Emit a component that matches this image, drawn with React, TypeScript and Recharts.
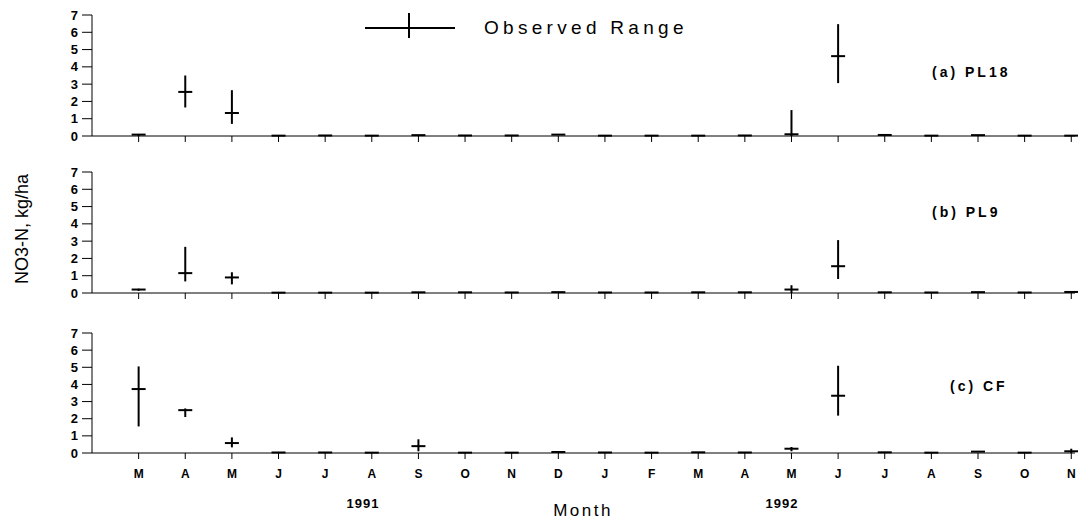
import React from 'react';
import { ComposedChart, Scatter, ErrorBar, XAxis, YAxis } from 'recharts';

const months = ['M', 'A', 'M', 'J', 'J', 'A', 'S', 'O', 'N', 'D', 'J', 'F', 'M', 'A', 'M', 'J', 'J', 'A', 'S', 'O', 'N'];
const yTicks = [0, 1, 2, 3, 4, 5, 6, 7];

// (a) PL18
const pl18Mean = [0.08, 2.55, 1.33, 0.02, 0.03, 0.02, 0.05, 0.03, 0.03, 0.08, 0.02, 0.02, 0.02, 0.03, 0.1, 4.62, 0.06, 0.02, 0.05, 0.02, 0.02];
const pl18Low = [0.0, 1.65, 0.7, 0.02, 0.03, 0.02, 0.05, 0.03, 0.03, 0.05, 0.02, 0.02, 0.02, 0.03, 0.0, 3.06, 0.06, 0.02, 0.05, 0.02, 0.02];
const pl18High = [0.12, 3.5, 2.65, 0.02, 0.03, 0.02, 0.05, 0.03, 0.03, 0.1, 0.02, 0.02, 0.02, 0.03, 1.5, 6.47, 0.06, 0.02, 0.05, 0.02, 0.02];

// (b) PL9
const pl9Mean = [0.2, 1.15, 0.9, 0.02, 0.02, 0.02, 0.04, 0.04, 0.03, 0.05, 0.03, 0.03, 0.04, 0.04, 0.2, 1.55, 0.04, 0.03, 0.05, 0.03, 0.06];
const pl9Low = [0.12, 0.67, 0.5, 0.02, 0.02, 0.02, 0.04, 0.04, 0.03, 0.05, 0.03, 0.03, 0.04, 0.04, 0.0, 0.81, 0.04, 0.03, 0.05, 0.03, 0.02];
const pl9High = [0.25, 2.67, 1.2, 0.02, 0.02, 0.02, 0.04, 0.04, 0.03, 0.05, 0.03, 0.03, 0.04, 0.04, 0.45, 3.06, 0.04, 0.03, 0.05, 0.03, 0.1];

// (c) CF
const cfMean = [3.73, 2.5, 0.58, 0.03, 0.03, 0.02, 0.4, 0.02, 0.02, 0.06, 0.03, 0.02, 0.04, 0.03, 0.25, 3.34, 0.04, 0.02, 0.08, 0.02, 0.1];
const cfLow = [1.55, 2.1, 0.33, 0.03, 0.03, 0.02, 0.1, 0.02, 0.02, 0.06, 0.03, 0.02, 0.04, 0.03, 0.1, 2.18, 0.04, 0.02, 0.08, 0.02, 0.0];
const cfHigh = [5.05, 2.6, 0.91, 0.03, 0.03, 0.02, 0.8, 0.02, 0.02, 0.06, 0.03, 0.02, 0.04, 0.03, 0.35, 5.09, 0.04, 0.02, 0.08, 0.02, 0.25];

const font = '"Liberation Sans", Arial, sans-serif';

const buildRows = (mean: number[], low: number[], high: number[]) =>
  mean.map((m, i) => ({ x: i + 1, mean: m, err: [m - low[i], high[i] - m] }));

const MeanTick = (props: any) => {
  const { cx, cy } = props;
  return <line x1={cx - 7} x2={cx + 7} y1={cy} y2={cy} stroke="#000" strokeWidth={2} />;
};

interface PanelProps {
  top: number;
  height: number;
  rows: { x: number; mean: number; err: number[] }[];
  showLabels?: boolean;
}

const Panel: React.FC<PanelProps> = ({ top, height, rows, showLabels }) => {
  const xh = showLabels ? 30 : 14;
  const bottom = showLabels ? 44 : 0;
  return (
    <div style={{ position: 'absolute', left: 0, top }}>
      <ComposedChart width={1078} height={height} data={rows} margin={{ top: 15, right: 3, bottom, left: 0 }}>
        <XAxis
          type="number"
          dataKey="x"
          domain={[0, 21.08]}
          ticks={months.map((_, i) => i + 1)}
          tickFormatter={(v) => (showLabels ? months[v - 1] : '')}
          interval={0}
          height={xh}
          tickSize={6}
          tickMargin={10}
          stroke="#000"
          tick={{ fill: '#000', fontSize: 12, fontWeight: 'bold', fontFamily: font }}
        />
        <YAxis
          type="number"
          domain={[0, 7]}
          ticks={yTicks}
          interval={0}
          width={92}
          tickSize={10}
          tickMargin={4}
          stroke="#000"
          tick={{ fill: '#000', fontSize: 13, fontWeight: 'bold', fontFamily: font }}
        />
        <Scatter dataKey="mean" shape={MeanTick} isAnimationActive={false}>
          <ErrorBar dataKey="err" direction="y" width={0} stroke="#000" strokeWidth={2} isAnimationActive={false} />
        </Scatter>
      </ComposedChart>
    </div>
  );
};

const panelLabel: React.CSSProperties = {
  position: 'absolute',
  fontFamily: font,
  fontWeight: 'bold',
  fontSize: 14,
  letterSpacing: 3,
  color: '#000',
  whiteSpace: 'nowrap',
  transform: 'translateY(-50%)',
};

const App: React.FC = () => {
  return (
    <div style={{ position: 'absolute', left: 0, top: 0, width: 1078, height: 527, background: '#fff', overflow: 'hidden' }}>
      <Panel top={0} height={150} rows={buildRows(pl18Mean, pl18Low, pl18High)} />
      <Panel top={157} height={150} rows={buildRows(pl9Mean, pl9Low, pl9High)} />
      <Panel top={318} height={209} rows={buildRows(cfMean, cfLow, cfHigh)} showLabels />

      {/* legend */}
      <svg style={{ position: 'absolute', left: 360, top: 8 }} width={100} height={36}>
        <line x1={5} x2={95} y1={20} y2={20} stroke="#000" strokeWidth={2} />
        <line x1={49} x2={49} y1={5} y2={30} stroke="#000" strokeWidth={2} />
      </svg>
      <div style={{ position: 'absolute', left: 484, top: 28, transform: 'translateY(-50%)', fontFamily: font, fontSize: 19, letterSpacing: 4.3, color: '#000', whiteSpace: 'nowrap' }}>
        Observed Range
      </div>

      <div style={{ ...panelLabel, left: 932, top: 72 }}>(a) PL18</div>
      <div style={{ ...panelLabel, left: 932, top: 212 }}>(b) PL9</div>
      <div style={{ ...panelLabel, left: 950, top: 386 }}>(c) CF</div>

      <div
        style={{
          position: 'absolute',
          left: 22,
          top: 229,
          transform: 'translate(-50%, -50%) rotate(-90deg)',
          fontFamily: font,
          fontSize: 18,
          color: '#000',
          whiteSpace: 'nowrap',
        }}
      >
        NO3-N, kg/ha
      </div>

      <div style={{ position: 'absolute', left: 363, top: 503, transform: 'translate(-50%, -50%)', fontFamily: font, fontWeight: 'bold', fontSize: 13, letterSpacing: 1 }}>1991</div>
      <div style={{ position: 'absolute', left: 583, top: 511, transform: 'translate(-50%, -50%)', fontFamily: font, fontSize: 17, letterSpacing: 2.5 }}>Month</div>
      <div style={{ position: 'absolute', left: 782, top: 503, transform: 'translate(-50%, -50%)', fontFamily: font, fontWeight: 'bold', fontSize: 13, letterSpacing: 1 }}>1992</div>
    </div>
  );
};

export default App;
